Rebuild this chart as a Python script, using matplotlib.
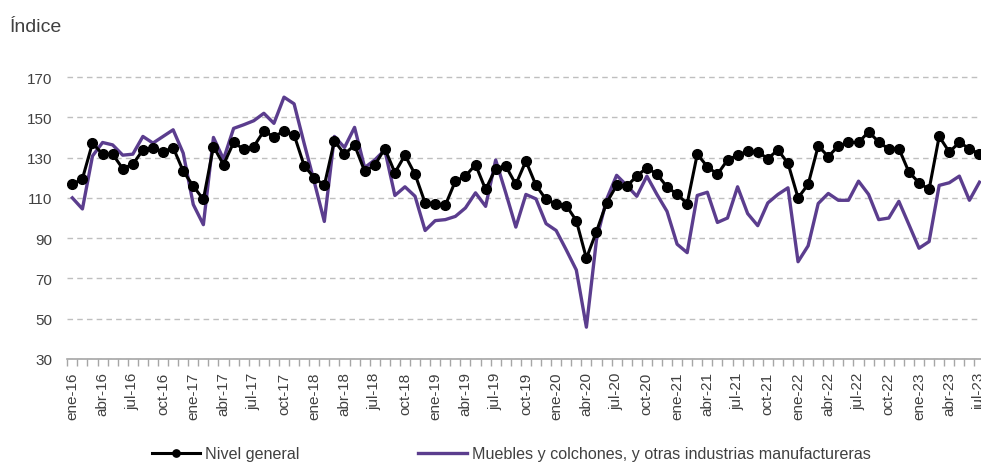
"""
Índice mensual: nivel general vs. muebles y colchones (ene-16 a jul-23).
"""

import matplotlib

matplotlib.use("Agg")  # no display in the runner
import matplotlib.pyplot as plt
from matplotlib.ticker import FixedLocator

plt.rcParams["font.family"] = ["Liberation Sans", "DejaVu Sans"]

# ── Data ─────────────────────────────────────────────────────────────────────
MESES = ["ene", "feb", "mar", "abr", "may", "jun",
         "jul", "ago", "sep", "oct", "nov", "dic"]
periodos = [f"{MESES[i % 12]}-{16 + i // 12}" for i in range(91)]

nivel_general = [
    116.7, 119.5, 137.2, 131.7, 131.7, 124.5, 126.7, 133.8, 135.0, 132.8, 135.0, 123.3,  # 2016
    115.8, 109.2, 135.5, 126.5, 137.5, 134.2, 135.5, 143.2, 140.3, 143.2, 141.3, 126.0,  # 2017
    120.0, 116.2, 138.3, 131.7, 136.2, 123.3, 126.2, 134.5, 122.5, 131.2, 121.7, 107.5,  # 2018
    107.2, 106.3, 118.3, 120.8, 126.5, 114.2, 124.5, 125.8, 116.7, 128.3, 116.2, 109.2,  # 2019
    107.0, 106.2, 98.7, 80.0, 93.3, 107.5, 116.2, 115.8, 120.8, 125.0, 121.7, 115.5,     # 2020
    111.7, 107.2, 131.7, 125.5, 121.7, 128.8, 131.2, 133.2, 132.8, 129.5, 133.8, 127.2,  # 2021
    110.0, 116.7, 135.8, 130.5, 135.8, 137.5, 137.5, 142.8, 137.8, 134.2, 134.5, 122.8,  # 2022
    117.5, 114.2, 140.5, 132.8, 137.5, 134.5, 131.7,                                     # 2023
]

muebles = [
    110.0, 104.5, 130.8, 137.5, 136.3, 131.2, 131.7, 140.5, 137.2, 140.5, 143.8, 132.2,  # 2016
    106.7, 96.7, 140.0, 129.2, 144.5, 146.3, 148.3, 152.0, 147.0, 160.0, 156.7, 137.0,   # 2017
    118.0, 98.3, 140.5, 135.0, 145.0, 125.0, 128.8, 133.8, 111.2, 115.5, 110.8, 93.8,    # 2018
    98.7, 99.2, 100.8, 105.0, 112.5, 105.8, 128.8, 112.5, 95.5, 111.7, 109.5, 97.2,      # 2019
    93.8, 84.2, 74.2, 45.8, 89.2, 109.2, 121.2, 116.2, 110.8, 120.8, 111.7, 103.3,       # 2020
    87.0, 82.8, 111.2, 112.8, 97.8, 100.0, 115.5, 102.2, 96.2, 107.5, 111.7, 115.0,      # 2021
    78.3, 86.2, 107.2, 112.2, 108.8, 108.8, 118.3, 111.7, 99.2, 100.0, 108.3, 96.7,      # 2022
    85.0, 88.3, 116.2, 117.5, 120.8, 108.8, 117.8,                                       # 2023
]

y_ticks = [30, 50, 70, 90, 110, 130, 150, 170]

TEXT = "#404040"
GRID = "#BFBFBF"
AXIS = "#A6A6A6"
PURPLE = "#5B3D8E"

# ── Figure ───────────────────────────────────────────────────────────────────
fig = plt.figure(figsize=(9.81, 4.64), dpi=100)
ax = fig.add_axes([67.3 / 981, 1 - 360 / 464, 1 - 67.3 / 981, (360 - 74) / 464])

x = list(range(len(periodos)))
l_muebles, = ax.plot(x, muebles, color=PURPLE, lw=2.4, zorder=2,
                     label="Muebles y colchones, y otras industrias manufactureras")
l_nivel, = ax.plot(x, nivel_general, color="black", lw=2.2, marker="o", ms=7,
                   zorder=3, label="Nivel general")

# last month sits right at the figure edge, so the axis runs off the right side
ax.set_xlim(-0.5, 90.15)
ax.set_ylim(30, 172)

# category axis: labels every quarter, small ticks between months
ax.set_xticks(x[::3])
ax.set_xticklabels(periodos[::3], rotation=90, fontsize=11, color=TEXT)
ax.xaxis.set_minor_locator(FixedLocator([i - 0.5 for i in range(len(periodos) + 1)]))
ax.tick_params(axis="x", which="major", length=0, pad=9)
ax.tick_params(axis="x", which="minor", length=5, width=1, color=AXIS, direction="out")

ax.set_yticks(y_ticks)
ax.set_yticklabels([str(v) for v in y_ticks], fontsize=11, color=TEXT)
ax.tick_params(axis="y", length=0, pad=11)
ax.yaxis.grid(True, linestyle=(0, (4, 3)), color=GRID, lw=1)
ax.set_axisbelow(True)

for side in ("top", "right", "left"):
    ax.spines[side].set_visible(False)
ax.spines["bottom"].set_color(AXIS)
ax.spines["bottom"].set_linewidth(1.2)
ax.spines["bottom"].set_zorder(4)

fig.text(10 / 981, 1 - 27 / 464, "Índice", fontsize=14, color=TEXT,
         ha="left", va="center")

fig.legend(handles=[l_nivel, l_muebles], loc="center",
           bbox_to_anchor=(511 / 981, 1 - 455 / 464), ncol=2, frameon=False,
           fontsize=11.6, handlelength=3.0, handletextpad=0.3, columnspacing=7.4,
           labelcolor=TEXT, markerscale=0.75)

fig.savefig("out.png", dpi=100)
